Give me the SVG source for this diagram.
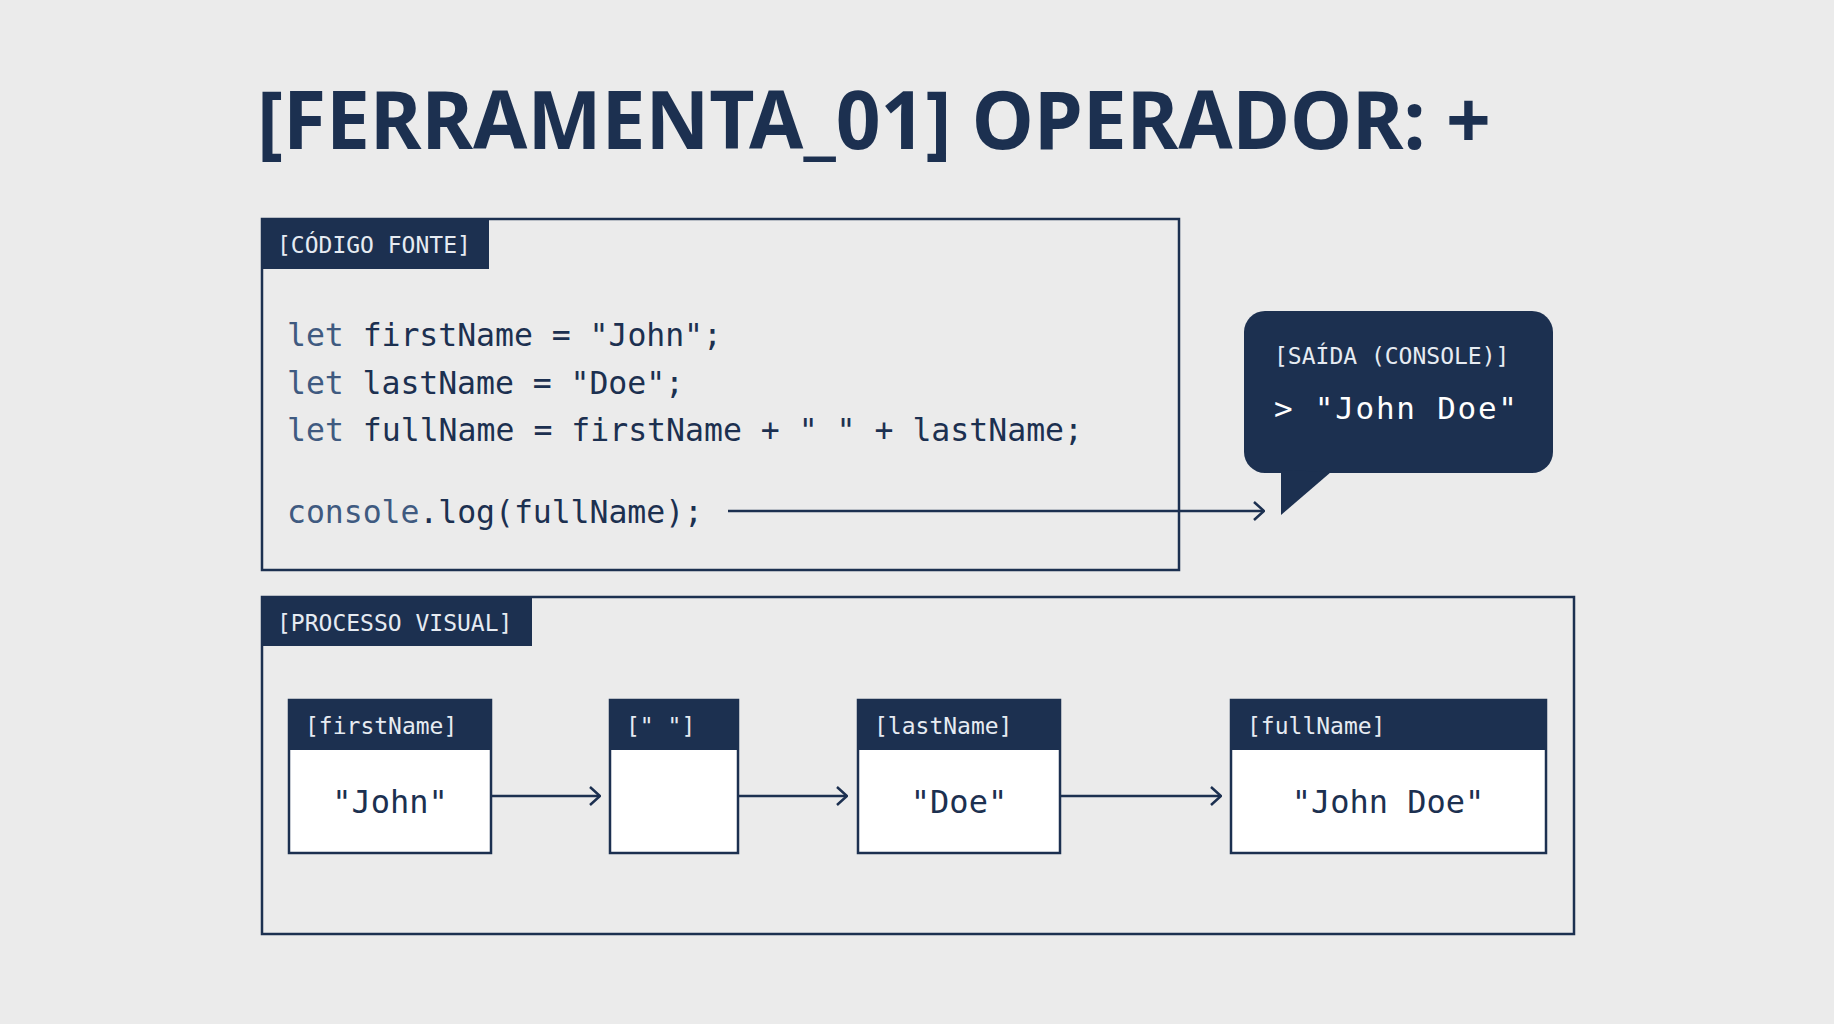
<svg xmlns="http://www.w3.org/2000/svg" width="1834" height="1024" viewBox="0 0 1834 1024">
<style>
.box{fill:none;stroke:#1c3050;stroke-width:2.5}
.node{fill:#fff;stroke:#1c3050;stroke-width:2.5}
.hdr{fill:#1c3050}
.ht{font-family:"DejaVu Sans Mono","Liberation Mono",monospace;font-size:23px;fill:#e6ebf2}
.code{font-family:"DejaVu Sans Mono","Liberation Mono",monospace;font-size:31.5px;fill:#1c3050}
.kw{fill:#3f5a80}
.val{font-family:"DejaVu Sans Mono","Liberation Mono",monospace;font-size:32px;fill:#1c3050;text-anchor:middle}
.conn{stroke:#1c3050;stroke-width:2.5;fill:none;marker-end:url(#a)}
</style>
<defs><marker id="a" viewBox="0 0 12 20" refX="11" refY="10" markerWidth="12" markerHeight="20" markerUnits="userSpaceOnUse" orient="auto"><path d="M1 1 L11 10 L1 19" fill="none" stroke="#1c3050" stroke-width="2.5"/></marker></defs>
<rect width="1834" height="1024" fill="#ebebeb"/>
<text x="257" y="149" font-family="Noto Sans,sans-serif" font-weight="bold" font-size="80" fill="#1c3050" textLength="1234" lengthAdjust="spacingAndGlyphs">[FERRAMENTA_01] OPERADOR: +</text>
<g id="code">
<rect class="box" x="262" y="219" width="917" height="351"/>
<rect class="hdr" x="262" y="219" width="227" height="50"/>
<text class="ht" x="277" y="253">[CÓDIGO FONTE]</text>
<text class="code" x="287" y="346" textLength="435"><tspan class="kw">let</tspan> firstName = "John";</text>
<text class="code" x="287" y="394" textLength="397"><tspan class="kw">let</tspan> lastName = "Doe";</text>
<text class="code" x="287" y="441" textLength="796"><tspan class="kw">let</tspan> fullName = firstName + " " + lastName;</text>
<text class="code" x="287" y="523" textLength="416"><tspan class="kw">console</tspan>.log(fullName);</text>
</g>
<g id="output">
<rect class="hdr" x="1244" y="311" width="309" height="162" rx="21"/>
<path class="hdr" d="M1281 470 L1281 515 L1331 472 Z"/>
<text class="ht" x="1274" y="364" fill="#d0d8e4">[SAÍDA (CONSOLE)]</text>
<text x="1274" y="419" font-family="DejaVu Sans Mono,monospace" font-size="31" fill="#fff" textLength="243">&gt; "John Doe"</text>
</g>
<g id="visual">
<rect class="box" x="262" y="597" width="1312" height="337"/>
<rect class="hdr" x="262" y="597" width="270" height="49"/>
<text class="ht" x="277" y="631">[PROCESSO VISUAL]</text>
</g>
<g id="n1"><rect class="node" x="289" y="700" width="202" height="153"/><rect class="hdr" x="289" y="700" width="202" height="50"/><text class="ht" x="305" y="734">[firstName]</text><text class="val" x="390" y="813">"John"</text></g>
<g id="n2"><rect class="node" x="610" y="700" width="128" height="153"/><rect class="hdr" x="610" y="700" width="128" height="50"/><text class="ht" x="626" y="734">[" "]</text></g>
<g id="n3"><rect class="node" x="858" y="700" width="202" height="153"/><rect class="hdr" x="858" y="700" width="202" height="50"/><text class="ht" x="874" y="734">[lastName]</text><text class="val" x="959" y="813">"Doe"</text></g>
<g id="n4"><rect class="node" x="1231" y="700" width="315" height="153"/><rect class="hdr" x="1231" y="700" width="315" height="50"/><text class="ht" x="1247" y="734">[fullName]</text><text class="val" x="1388" y="813">"John Doe"</text></g>
<g id="connectors">
<line class="conn" x1="728" y1="511" x2="1264" y2="511"/>
<line class="conn" x1="491" y1="796" x2="600" y2="796"/>
<line class="conn" x1="738" y1="796" x2="847" y2="796"/>
<line class="conn" x1="1060" y1="796" x2="1221" y2="796"/>
</g>
</svg>
